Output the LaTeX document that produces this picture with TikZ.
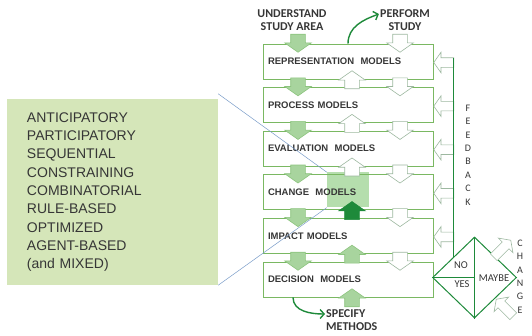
\documentclass[tikz,border=0pt]{standalone}
\usepackage{fontspec}
\setmainfont{Liberation Sans}
\newfontfamily\calibri{Carlito}
\usepackage{tikz}
\usepackage{xcolor}
\usetikzlibrary{shapes.geometric, shapes.arrows, arrows.meta, positioning}

\definecolor{boxgreen}{HTML}{7AB862}
\definecolor{arrowgreen}{HTML}{A8D49E}
\definecolor{arrowgreenline}{HTML}{8CC47E}
\definecolor{arrowgrey}{HTML}{9DB8A0}
\definecolor{darkgreen}{HTML}{1E8A3A}
\definecolor{hilite}{HTML}{B5DEAD}
\definecolor{listgreen}{HTML}{D5E6B9}
\definecolor{blueline}{HTML}{7A9CC8}
\definecolor{textgrey}{HTML}{363636}

\begin{document}
\begin{tikzpicture}[x=1pt, y=-1pt, node distance=7.8pt]

    % Define style for different elements
    \tikzstyle{model} = [rectangle, draw=boxgreen, line width=0.8pt, minimum width=170pt, minimum height=35pt, text width=160pt, inner xsep=5pt, align=left, font=\bfseries\fontsize{9.5}{11}\selectfont, text=textgrey]
    \tikzstyle{blockarrow} = [single arrow, anchor=tip, minimum height=18pt, minimum width=0pt, inner xsep=0pt, inner ysep=7pt, single arrow head extend=6pt, single arrow tip angle=110, line width=0.6pt]
    \tikzstyle{garrow} = [blockarrow, fill=arrowgreen, draw=arrowgreenline]
    \tikzstyle{warrow} = [blockarrow, fill=white, draw=arrowgrey]
    \tikzstyle{sidearrow} = [warrow, minimum height=20pt, inner ysep=4.5pt, single arrow head extend=5.5pt]
    \tikzstyle{flow} = [draw=darkgreen, line width=1.4pt, -{Straight Barb[length=4pt, width=9pt]}]
    \tikzstyle{toplabel} = [font=\calibri\bfseries\fontsize{12}{13}\selectfont, text=textgrey, align=center, inner sep=1pt]
    \tikzstyle{vletters} = [font=\calibri\fontsize{10}{13.4}\selectfont, text=textgrey, align=center, inner sep=0pt]
    \tikzstyle{choicetext} = [font=\calibri\fontsize{10.5}{12}\selectfont, text=textgrey, inner sep=0pt]

    \useasboundingbox (0,0) rectangle (532,335);

    % Left list of model types
    \node (types) [rectangle, fill=listgreen, minimum width=211pt, minimum height=186pt, text width=171pt, inner xsep=20pt, align=left, font=\fontsize{14}{18.3}\selectfont, text=textgrey] at (112.5,192) {ANTICIPATORY\\PARTICIPATORY\\SEQUENTIAL\\CONSTRAINING\\COMBINATORIAL\\RULE-BASED\\OPTIMIZED\\AGENT-BASED\\(and MIXED)};

    % Highlight in the change box
    \node (hl) [rectangle, fill=hilite, minimum width=42pt, minimum height=35pt, inner sep=0pt] at (348,189.9) {};

    % Place model boxes
    \node (rep) [model] at (348,61.5) {REPRESENTATION\ \ MODELS};
    \node (proc) [model, below=of rep] {PROCESS MODELS};
    \node (eval) [model, below=of proc] {EVALUATION\ \ MODELS};
    \node (chg) [model, below=of eval] {CHANGE\ \ MODELS};
    \node (imp) [model, below=of chg] {IMPACT MODELS};
    \node (dec) [model, below=of imp] {DECISION\ \ MODELS};

    \draw [blueline, line width=0.5pt] ([yshift=5]types.north east) -- (hl.north west);
    \draw [blueline, line width=0.5pt] (types.south east) -- (hl.south west);

    % Labels outside the boxes
    \node (understand) [toplabel] at (292,20) {UNDERSTAND\\STUDY AREA};
    \node (perform) [toplabel] at (405,20) {PERFORM\\STUDY};
    \node (specify) [toplabel, align=left, anchor=west] at (325,320) {SPECIFY\\METHODS};

    % Arrows between boxes
    \node (gd0) [garrow, rotate=-90] at ([xshift=-50, yshift=-9]rep.north) {};
    \node (gd1) [garrow, rotate=-90] at ([xshift=-50, yshift=-9]proc.north) {};
    \node (gd2) [garrow, rotate=-90] at ([xshift=-50, yshift=-9]eval.north) {};
    \node (gd3) [garrow, rotate=-90] at ([xshift=-50, yshift=-9]chg.north) {};
    \node (gd4) [garrow, rotate=-90] at ([xshift=-50, yshift=-9]imp.north) {};
    \node (gd5) [garrow, rotate=-90] at ([xshift=-50, yshift=-9]dec.north) {};
    \node (wd0) [warrow, rotate=-90] at ([xshift=52, yshift=-9]rep.north) {};
    \node (wd1) [warrow, rotate=-90] at ([xshift=52, yshift=-9]proc.north) {};
    \node (wd2) [warrow, rotate=-90] at ([xshift=52, yshift=-9]eval.north) {};
    \node (wd3) [warrow, rotate=-90] at ([xshift=52, yshift=-9]chg.north) {};
    \node (wd4) [warrow, rotate=-90] at ([xshift=52, yshift=-9]imp.north) {};
    \node (wd5) [warrow, rotate=-90] at ([xshift=52, yshift=-9]dec.north) {};
    \node (wu1) [warrow, rotate=90] at ([xshift=4, yshift=9]rep.south) {};
    \node (wu2) [warrow, rotate=90] at ([xshift=4, yshift=9]proc.south) {};
    \node (wu3) [warrow, rotate=90] at ([xshift=4, yshift=9]eval.south) {};
    \node (dkup) [blockarrow, fill=darkgreen, draw=darkgreen, rotate=90] at ([xshift=4, yshift=9]chg.south) {};
    \node (gu5) [garrow, rotate=90] at ([xshift=4, yshift=9]imp.south) {};
    \node (gu6) [garrow, rotate=90] at ([xshift=4, yshift=9]dec.south) {};

    % Feedback arrows on the right
    \node (fb1) [sidearrow, rotate=180] at ([yshift=-1]rep.east) {};
    \node (fb2) [sidearrow, rotate=180] at ([yshift=-1]proc.east) {};
    \node (fb3) [sidearrow, rotate=180] at ([yshift=-1]eval.east) {};
    \node (fb4) [sidearrow, rotate=180] at ([yshift=-1]chg.east) {};
    \node (fb5) [sidearrow, rotate=180] at ([yshift=-1]imp.east) {};

    % Decision diamond
    \node (choice) [diamond, draw=darkgreen, line width=1pt, minimum width=84pt, minimum height=81pt, inner sep=0pt] at (474.5,277.5) {};
    \draw [darkgreen, line width=0.8pt] (choice.west) -- (choice.center);
    \draw [darkgreen, line width=0.8pt] (choice.north) -- (choice.south);
    \node (no) [choicetext] at (461,265) {NO};
    \node (yes) [choicetext] at (462,284) {YES};
    \node (maybe) [choicetext] at (494,278) {MAYBE};
    \node (cout) [sidearrow, rotate=45, minimum height=24pt] at (511,240) {};
    \node (cin) [sidearrow, rotate=135, minimum height=24pt] at (496,299) {};

    \coordinate (fbtop) at (455,58);
    \draw [darkgreen, line width=1.5pt] (choice.north west) -- (choice.north west |- fbtop);
    \node (feedback) [vletters] at (468,155) {F\\E\\E\\D\\B\\A\\C\\K};
    \node (change) [vletters] at (520,276.5) {C\\H\\A\\N\\G\\E};

    % Curved arrows
    \draw [flow] (rep.north) to[out=90, in=200] ([yshift=6]perform.west);
    \draw [flow] ([xshift=-55]dec.south) to[out=-90, in=180] ([yshift=6]specify.west);

\end{tikzpicture}
\end{document}
